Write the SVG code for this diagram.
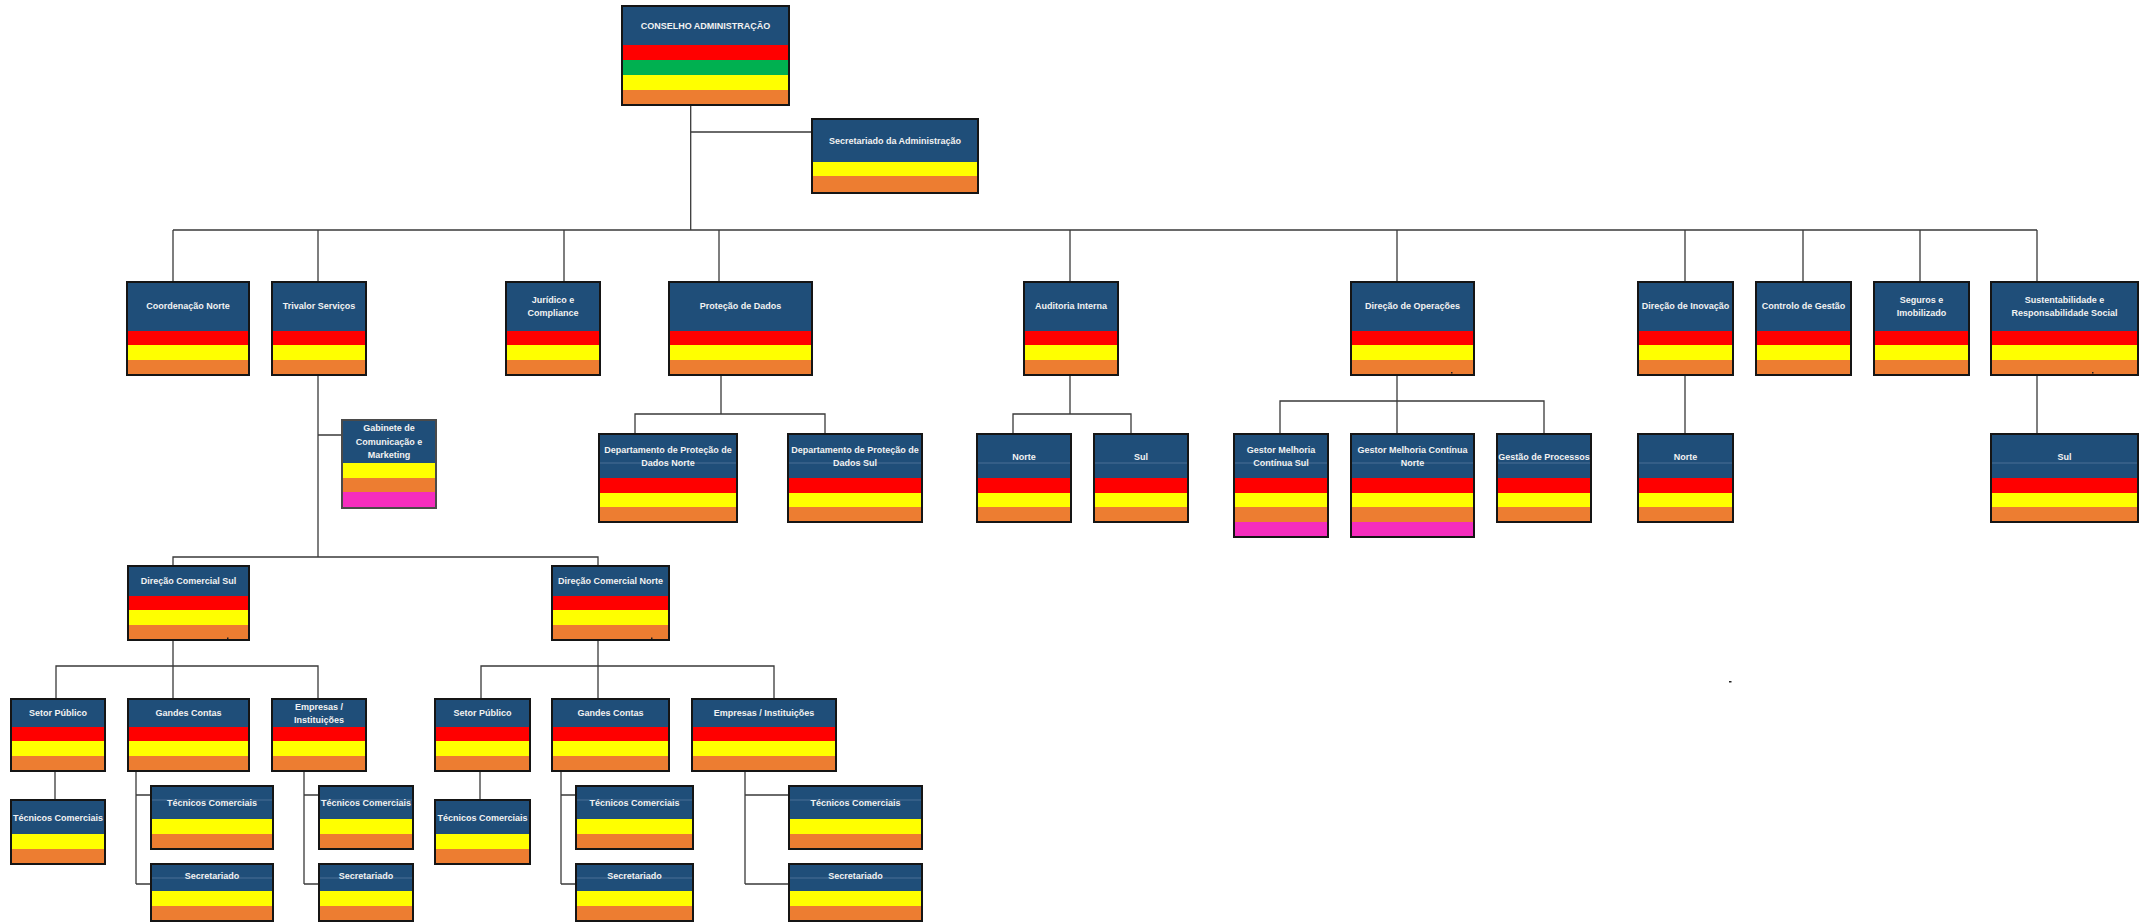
<svg xmlns="http://www.w3.org/2000/svg" width="2145" height="922" viewBox="0 0 2145 922">
<style>
.t{fill:#1F4E79}.r{fill:#FF0000}.g{fill:#00B050}.y{fill:#FFFF00}.o{fill:#ED7D31}.p{fill:#F52DBE}
.b{fill:none;stroke:#151515;stroke-width:2}
.f{stroke:#4A6F96;stroke-width:1}
.l{font-family:"Liberation Sans",Arial,sans-serif;font-weight:bold;font-size:9px;fill:#F2F2F2;text-anchor:middle}
.c{fill:none;stroke:#3A3A3A;stroke-width:1.3}
.d{fill:#222}
</style>
<rect width="2145" height="922" fill="#FFFFFF"/>
<g id="connectors">
<path class="c" d="M690.7 105V230M690.7 132H812M173 230H2037M173 230V282M318 230V282M564 230V282M719 230V282M1070 230V282M1397 230V282M1685 230V282M1803 230V282M1920 230V282M2037 230V282"/>
<path class="c" d="M721 375V414M635 434V414H825V434M1070 375V414M1013 434V414H1131V434M1397 375V434M1280 434V401H1544V434M1685 375V434M2037 375V434"/>
<path class="c" d="M318 375V557M318 435H342M173 566V557H598V566"/>
<path class="c" d="M173 640V666M56 699V666H318V699M173 666V699M598 640V666M481 699V666H774V699M598 666V699"/>
<path class="c" d="M55 771V800M480 771V800M136 771V884M136 795H151M136 884H151M304 771V884M304 795H319M304 884H319M561 771V884M561 795H576M561 884H576M745 771V884M745 795H789M745 884H789"/>
</g>
<g id="conselho">
<rect class="t" x="622" y="6" width="167" height="39"/><rect class="r" x="622" y="45" width="167" height="15"/><rect class="g" x="622" y="60" width="167" height="15"/><rect class="y" x="622" y="75" width="167" height="15"/><rect class="o" x="622" y="90" width="167" height="15"/>
<rect class="b" x="622" y="6" width="167" height="99"/>
<text class="l" x="705.5" y="29">CONSELHO ADMINISTRAÇÃO</text>
</g>
<g id="secretariado-adm">
<rect class="t" x="812" y="119" width="166" height="43"/><rect class="y" x="812" y="162" width="166" height="14"/><rect class="o" x="812" y="176" width="166" height="17"/>
<rect class="b" x="812" y="119" width="166" height="74"/>
<text class="l" x="895" y="144">Secretariado da Administração</text>
</g>
<g id="coord-norte">
<rect class="t" x="127" y="282" width="122" height="49"/><rect class="r" x="127" y="331" width="122" height="14"/><rect class="y" x="127" y="345" width="122" height="15"/><rect class="o" x="127" y="360" width="122" height="15"/>
<rect class="b" x="127" y="282" width="122" height="93"/>
<text class="l" x="188" y="309">Coordenação Norte</text>
</g>
<g id="trivalor">
<rect class="t" x="272" y="282" width="94" height="49"/><rect class="r" x="272" y="331" width="94" height="14"/><rect class="y" x="272" y="345" width="94" height="15"/><rect class="o" x="272" y="360" width="94" height="15"/>
<rect class="b" x="272" y="282" width="94" height="93"/>
<text class="l" x="319" y="309">Trivalor Serviços</text>
</g>
<g id="juridico">
<rect class="t" x="506" y="282" width="94" height="49"/><rect class="r" x="506" y="331" width="94" height="14"/><rect class="y" x="506" y="345" width="94" height="15"/><rect class="o" x="506" y="360" width="94" height="15"/>
<rect class="b" x="506" y="282" width="94" height="93"/>
<text class="l" x="553" y="303">Jurídico e</text><text class="l" x="553" y="316">Compliance</text>
</g>
<g id="protecao-dados">
<rect class="t" x="669" y="282" width="143" height="49"/><rect class="r" x="669" y="331" width="143" height="14"/><rect class="y" x="669" y="345" width="143" height="15"/><rect class="o" x="669" y="360" width="143" height="15"/>
<rect class="b" x="669" y="282" width="143" height="93"/>
<text class="l" x="740.5" y="309">Proteção de Dados</text>
</g>
<g id="auditoria">
<rect class="t" x="1024" y="282" width="94" height="49"/><rect class="r" x="1024" y="331" width="94" height="14"/><rect class="y" x="1024" y="345" width="94" height="15"/><rect class="o" x="1024" y="360" width="94" height="15"/>
<rect class="b" x="1024" y="282" width="94" height="93"/>
<text class="l" x="1071" y="309">Auditoria Interna</text>
</g>
<g id="dir-operacoes">
<rect class="t" x="1351" y="282" width="123" height="49"/><rect class="r" x="1351" y="331" width="123" height="14"/><rect class="y" x="1351" y="345" width="123" height="15"/><rect class="o" x="1351" y="360" width="123" height="15"/>
<rect class="b" x="1351" y="282" width="123" height="93"/>
<text class="l" x="1412.5" y="309">Direção de Operações</text>
<rect class="d" x="1451" y="372" width="1.5" height="1.5"/>
</g>
<g id="dir-inovacao">
<rect class="t" x="1638" y="282" width="95" height="49"/><rect class="r" x="1638" y="331" width="95" height="14"/><rect class="y" x="1638" y="345" width="95" height="15"/><rect class="o" x="1638" y="360" width="95" height="15"/>
<rect class="b" x="1638" y="282" width="95" height="93"/>
<text class="l" x="1685.5" y="309">Direção de Inovação</text>
</g>
<g id="controlo-gestao">
<rect class="t" x="1756" y="282" width="95" height="49"/><rect class="r" x="1756" y="331" width="95" height="14"/><rect class="y" x="1756" y="345" width="95" height="15"/><rect class="o" x="1756" y="360" width="95" height="15"/>
<rect class="b" x="1756" y="282" width="95" height="93"/>
<text class="l" x="1803.5" y="309">Controlo de Gestão</text>
</g>
<g id="seguros">
<rect class="t" x="1874" y="282" width="95" height="49"/><rect class="r" x="1874" y="331" width="95" height="14"/><rect class="y" x="1874" y="345" width="95" height="15"/><rect class="o" x="1874" y="360" width="95" height="15"/>
<rect class="b" x="1874" y="282" width="95" height="93"/>
<text class="l" x="1921.5" y="303">Seguros e</text><text class="l" x="1921.5" y="316">Imobilizado</text>
</g>
<g id="sustentabilidade">
<rect class="t" x="1991" y="282" width="147" height="49"/><rect class="r" x="1991" y="331" width="147" height="14"/><rect class="y" x="1991" y="345" width="147" height="15"/><rect class="o" x="1991" y="360" width="147" height="15"/>
<rect class="b" x="1991" y="282" width="147" height="93"/>
<text class="l" x="2064.5" y="303">Sustentabilidade e</text><text class="l" x="2064.5" y="316">Responsabilidade Social</text>
<rect class="d" x="2092" y="372" width="1.5" height="1.5"/>
</g>
<g id="gabinete">
<rect class="t" x="342" y="420" width="94" height="43"/><rect class="y" x="342" y="463" width="94" height="15"/><rect class="o" x="342" y="478" width="94" height="14"/><rect class="p" x="342" y="492" width="94" height="16"/>
<rect class="b" x="342" y="420" width="94" height="88" style="stroke:#4a4a4a"/>
<text class="l" x="389" y="431">Gabinete de</text><text class="l" x="389" y="445">Comunicação e</text><text class="l" x="389" y="458">Marketing</text>
</g>
<g id="pd-norte">
<rect class="t" x="599" y="434" width="138" height="44"/><line class="f" x1="600" y1="463" x2="736" y2="463"/><rect class="r" x="599" y="478" width="138" height="15"/><rect class="y" x="599" y="493" width="138" height="14"/><rect class="o" x="599" y="507" width="138" height="15"/>
<rect class="b" x="599" y="434" width="138" height="88"/>
<text class="l" x="668" y="453">Departamento de Proteção de</text><text class="l" x="668" y="466">Dados Norte</text>
</g>
<g id="pd-sul">
<rect class="t" x="788" y="434" width="134" height="44"/><line class="f" x1="789" y1="463" x2="921" y2="463"/><rect class="r" x="788" y="478" width="134" height="15"/><rect class="y" x="788" y="493" width="134" height="14"/><rect class="o" x="788" y="507" width="134" height="15"/>
<rect class="b" x="788" y="434" width="134" height="88"/>
<text class="l" x="855" y="453">Departamento de Proteção de</text><text class="l" x="855" y="466">Dados Sul</text>
</g>
<g id="aud-norte">
<rect class="t" x="977" y="434" width="94" height="44"/><line class="f" x1="978" y1="463" x2="1070" y2="463"/><rect class="r" x="977" y="478" width="94" height="15"/><rect class="y" x="977" y="493" width="94" height="14"/><rect class="o" x="977" y="507" width="94" height="15"/>
<rect class="b" x="977" y="434" width="94" height="88"/>
<text class="l" x="1024" y="460">Norte</text>
</g>
<g id="aud-sul">
<rect class="t" x="1094" y="434" width="94" height="44"/><line class="f" x1="1095" y1="463" x2="1187" y2="463"/><rect class="r" x="1094" y="478" width="94" height="15"/><rect class="y" x="1094" y="493" width="94" height="14"/><rect class="o" x="1094" y="507" width="94" height="15"/>
<rect class="b" x="1094" y="434" width="94" height="88"/>
<text class="l" x="1141" y="460">Sul</text>
</g>
<g id="gestor-sul">
<rect class="t" x="1234" y="434" width="94" height="44"/><line class="f" x1="1235" y1="463" x2="1327" y2="463"/><rect class="r" x="1234" y="478" width="94" height="15"/><rect class="y" x="1234" y="493" width="94" height="14"/><rect class="o" x="1234" y="507" width="94" height="15"/><rect class="p" x="1234" y="522" width="94" height="15"/>
<rect class="b" x="1234" y="434" width="94" height="103"/>
<text class="l" x="1281" y="453">Gestor Melhoria</text><text class="l" x="1281" y="466">Contínua Sul</text>
</g>
<g id="gestor-norte">
<rect class="t" x="1351" y="434" width="123" height="44"/><line class="f" x1="1352" y1="463" x2="1473" y2="463"/><rect class="r" x="1351" y="478" width="123" height="15"/><rect class="y" x="1351" y="493" width="123" height="14"/><rect class="o" x="1351" y="507" width="123" height="15"/><rect class="p" x="1351" y="522" width="123" height="15"/>
<rect class="b" x="1351" y="434" width="123" height="103"/>
<text class="l" x="1412.5" y="453">Gestor Melhoria Contínua</text><text class="l" x="1412.5" y="466">Norte</text>
</g>
<g id="gestao-processos">
<rect class="t" x="1497" y="434" width="94" height="44"/><line class="f" x1="1498" y1="463" x2="1590" y2="463"/><rect class="r" x="1497" y="478" width="94" height="15"/><rect class="y" x="1497" y="493" width="94" height="14"/><rect class="o" x="1497" y="507" width="94" height="15"/>
<rect class="b" x="1497" y="434" width="94" height="88"/>
<text class="l" x="1544" y="460">Gestão de Processos</text>
</g>
<g id="inov-norte">
<rect class="t" x="1638" y="434" width="95" height="44"/><line class="f" x1="1639" y1="463" x2="1732" y2="463"/><rect class="r" x="1638" y="478" width="95" height="15"/><rect class="y" x="1638" y="493" width="95" height="14"/><rect class="o" x="1638" y="507" width="95" height="15"/>
<rect class="b" x="1638" y="434" width="95" height="88"/>
<text class="l" x="1685.5" y="460">Norte</text>
</g>
<g id="sust-sul">
<rect class="t" x="1991" y="434" width="147" height="44"/><line class="f" x1="1992" y1="463" x2="2137" y2="463"/><rect class="r" x="1991" y="478" width="147" height="15"/><rect class="y" x="1991" y="493" width="147" height="14"/><rect class="o" x="1991" y="507" width="147" height="15"/>
<rect class="b" x="1991" y="434" width="147" height="88"/>
<text class="l" x="2064.5" y="460">Sul</text>
</g>
<g id="dc-sul">
<rect class="t" x="128" y="566" width="121" height="30"/><rect class="r" x="128" y="596" width="121" height="14"/><rect class="y" x="128" y="610" width="121" height="15"/><rect class="o" x="128" y="625" width="121" height="15"/>
<rect class="b" x="128" y="566" width="121" height="74"/>
<text class="l" x="188.5" y="584">Direção Comercial Sul</text>
<rect class="d" x="227" y="637.5" width="1.5" height="1.5"/>
</g>
<g id="dc-norte">
<rect class="t" x="552" y="566" width="117" height="30"/><rect class="r" x="552" y="596" width="117" height="14"/><rect class="y" x="552" y="610" width="117" height="15"/><rect class="o" x="552" y="625" width="117" height="15"/>
<rect class="b" x="552" y="566" width="117" height="74"/>
<text class="l" x="610.5" y="584">Direção Comercial Norte</text>
<rect class="d" x="651" y="637.5" width="1.5" height="1.5"/>
</g>
<g id="sul-setor-publico">
<rect class="t" x="11" y="699" width="94" height="28"/><rect class="r" x="11" y="727" width="94" height="14"/><rect class="y" x="11" y="741" width="94" height="15"/><rect class="o" x="11" y="756" width="94" height="15"/>
<rect class="b" x="11" y="699" width="94" height="72"/>
<text class="l" x="58" y="716">Setor Público</text>
</g>
<g id="sul-gandes-contas">
<rect class="t" x="128" y="699" width="121" height="28"/><rect class="r" x="128" y="727" width="121" height="14"/><rect class="y" x="128" y="741" width="121" height="15"/><rect class="o" x="128" y="756" width="121" height="15"/>
<rect class="b" x="128" y="699" width="121" height="72"/>
<text class="l" x="188.5" y="716">Gandes Contas</text>
</g>
<g id="sul-empresas">
<rect class="t" x="272" y="699" width="94" height="28"/><rect class="r" x="272" y="727" width="94" height="14"/><rect class="y" x="272" y="741" width="94" height="15"/><rect class="o" x="272" y="756" width="94" height="15"/>
<rect class="b" x="272" y="699" width="94" height="72"/>
<text class="l" x="319" y="710">Empresas /</text><text class="l" x="319" y="723">Instituições</text>
</g>
<g id="norte-setor-publico">
<rect class="t" x="435" y="699" width="95" height="28"/><rect class="r" x="435" y="727" width="95" height="14"/><rect class="y" x="435" y="741" width="95" height="15"/><rect class="o" x="435" y="756" width="95" height="15"/>
<rect class="b" x="435" y="699" width="95" height="72"/>
<text class="l" x="482.5" y="716">Setor Público</text>
</g>
<g id="norte-gandes-contas">
<rect class="t" x="552" y="699" width="117" height="28"/><rect class="r" x="552" y="727" width="117" height="14"/><rect class="y" x="552" y="741" width="117" height="15"/><rect class="o" x="552" y="756" width="117" height="15"/>
<rect class="b" x="552" y="699" width="117" height="72"/>
<text class="l" x="610.5" y="716">Gandes Contas</text>
</g>
<g id="norte-empresas">
<rect class="t" x="692" y="699" width="144" height="28"/><rect class="r" x="692" y="727" width="144" height="14"/><rect class="y" x="692" y="741" width="144" height="15"/><rect class="o" x="692" y="756" width="144" height="15"/>
<rect class="b" x="692" y="699" width="144" height="72"/>
<text class="l" x="764" y="716">Empresas / Instituições</text>
</g>
<g id="sul-sp-tecnicos">
<rect class="t" x="11" y="800" width="94" height="34"/><rect class="y" x="11" y="834" width="94" height="15"/><rect class="o" x="11" y="849" width="94" height="15"/>
<rect class="b" x="11" y="800" width="94" height="64"/>
<text class="l" x="58" y="821">Técnicos Comerciais</text>
</g>
<g id="norte-sp-tecnicos">
<rect class="t" x="435" y="800" width="95" height="34"/><rect class="y" x="435" y="834" width="95" height="15"/><rect class="o" x="435" y="849" width="95" height="15"/>
<rect class="b" x="435" y="800" width="95" height="64"/>
<text class="l" x="482.5" y="821">Técnicos Comerciais</text>
</g>
<g id="sul-gc-tecnicos">
<rect class="t" x="151" y="786" width="122" height="33"/><line class="f" x1="152" y1="800" x2="272" y2="800"/><rect class="y" x="151" y="819" width="122" height="15"/><rect class="o" x="151" y="834" width="122" height="15"/>
<rect class="b" x="151" y="786" width="122" height="63"/>
<text class="l" x="212" y="806">Técnicos Comerciais</text>
</g>
<g id="sul-gc-secretariado">
<rect class="t" x="151" y="864" width="122" height="27"/><line class="f" x1="152" y1="878" x2="272" y2="878"/><rect class="y" x="151" y="891" width="122" height="15"/><rect class="o" x="151" y="906" width="122" height="15"/>
<rect class="b" x="151" y="864" width="122" height="57"/>
<text class="l" x="212" y="879">Secretariado</text>
</g>
<g id="sul-emp-tecnicos">
<rect class="t" x="319" y="786" width="94" height="33"/><line class="f" x1="320" y1="800" x2="412" y2="800"/><rect class="y" x="319" y="819" width="94" height="15"/><rect class="o" x="319" y="834" width="94" height="15"/>
<rect class="b" x="319" y="786" width="94" height="63"/>
<text class="l" x="366" y="806">Técnicos Comerciais</text>
</g>
<g id="sul-emp-secretariado">
<rect class="t" x="319" y="864" width="94" height="27"/><line class="f" x1="320" y1="878" x2="412" y2="878"/><rect class="y" x="319" y="891" width="94" height="15"/><rect class="o" x="319" y="906" width="94" height="15"/>
<rect class="b" x="319" y="864" width="94" height="57"/>
<text class="l" x="366" y="879">Secretariado</text>
</g>
<g id="norte-gc-tecnicos">
<rect class="t" x="576" y="786" width="117" height="33"/><line class="f" x1="577" y1="800" x2="692" y2="800"/><rect class="y" x="576" y="819" width="117" height="15"/><rect class="o" x="576" y="834" width="117" height="15"/>
<rect class="b" x="576" y="786" width="117" height="63"/>
<text class="l" x="634.5" y="806">Técnicos Comerciais</text>
</g>
<g id="norte-gc-secretariado">
<rect class="t" x="576" y="864" width="117" height="27"/><line class="f" x1="577" y1="878" x2="692" y2="878"/><rect class="y" x="576" y="891" width="117" height="15"/><rect class="o" x="576" y="906" width="117" height="15"/>
<rect class="b" x="576" y="864" width="117" height="57"/>
<text class="l" x="634.5" y="879">Secretariado</text>
</g>
<g id="norte-emp-tecnicos">
<rect class="t" x="789" y="786" width="133" height="33"/><line class="f" x1="790" y1="800" x2="921" y2="800"/><rect class="y" x="789" y="819" width="133" height="15"/><rect class="o" x="789" y="834" width="133" height="15"/>
<rect class="b" x="789" y="786" width="133" height="63"/>
<text class="l" x="855.5" y="806">Técnicos Comerciais</text>
</g>
<g id="norte-emp-secretariado">
<rect class="t" x="789" y="864" width="133" height="27"/><line class="f" x1="790" y1="878" x2="921" y2="878"/><rect class="y" x="789" y="891" width="133" height="15"/><rect class="o" x="789" y="906" width="133" height="15"/>
<rect class="b" x="789" y="864" width="133" height="57"/>
<text class="l" x="855.5" y="879">Secretariado</text>
</g>
<rect class="d" x="1729" y="681" width="2.5" height="1.5"/>
</svg>
